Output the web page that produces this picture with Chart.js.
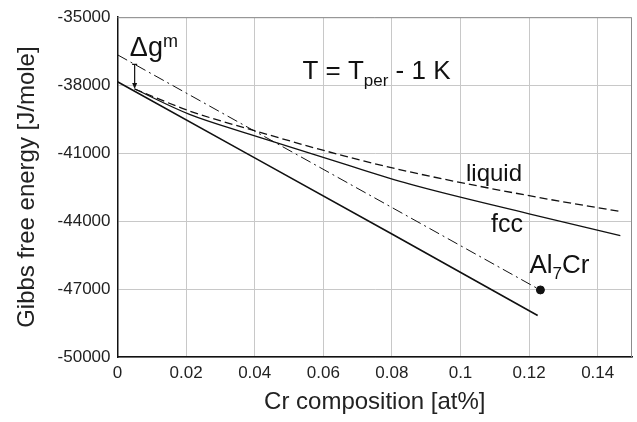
<!DOCTYPE html>
<html>
<head>
<meta charset="utf-8">
<script src="https://cdn.jsdelivr.net/npm/chart.js@4"></script>
<style>
  html, body { margin: 0; padding: 0; background: #fff; }
  #wrap { width: 637px; height: 422px; }
</style>
</head>
<body>
<div id="wrap"><canvas id="gibbs"></canvas></div>
<script>
// values
const tangentX = [0, 0.04, 0.08, 0.1225];
const tangentY = [-37850, -41210, -44570, -48170];

const commonX = [0, 0.1232];
const commonY = [-36660, -47040];

const fccX = [0.005, 0.021, 0.0384, 0.066, 0.085, 0.12, 0.1466];
const fccY = [-38170, -39290, -40160, -41480, -42360, -43680, -44640];

const liquidX = [0.005, 0.021, 0.0384, 0.066, 0.085, 0.12, 0.1466];
const liquidY = [-38170, -39140, -39940, -41120, -41820, -42880, -43580];

const al7crX = [0.1233];
const al7crY = [-47040];

// Δg^m arrow: from the dash-dot line down to the fcc curve
const arrowX = 0.005;
const arrowY = [-37080, -38170];

const xMin = 0, xMax = 0.15, xStep = 0.02;
const yMin = -50000, yMax = -35000, yStep = 3000;

const FONT = "'Liberation Sans', Arial, sans-serif";

function toPoints(xs, ys) {
    let pts = [];
    for (let i = 0; i < xs.length; i++) {
        pts.push({ x: xs[i], y: ys[i] });
    }
    return pts;
}

// texts and the arrow, placed in data units
const annotations = {
    id: 'annotations',
    afterDatasetsDraw(chart) {
        const ctx = chart.ctx;
        const xs = chart.scales.x, ys = chart.scales.y;
        const px = v => xs.getPixelForValue(v);
        const py = v => ys.getPixelForValue(v);
        const area = chart.chartArea;

        ctx.save();
        // top + right frame
        ctx.strokeStyle = '#8c8c8c';
        ctx.lineWidth = 1;
        ctx.beginPath();
        ctx.moveTo(area.left, area.top + 0.5);
        ctx.lineTo(area.right - 0.5, area.top + 0.5);
        ctx.lineTo(area.right - 0.5, area.bottom);
        ctx.stroke();

        // arrow
        const ax = px(arrowX), ay0 = py(arrowY[0]), ay1 = py(arrowY[1]);
        ctx.strokeStyle = '#111';
        ctx.fillStyle = '#111';
        ctx.lineWidth = 1.2;
        ctx.beginPath();
        ctx.moveTo(ax - 2.5, ay0);
        ctx.lineTo(ax + 2.5, ay0);
        ctx.moveTo(ax, ay0);
        ctx.lineTo(ax, ay1 - 4);
        ctx.stroke();
        ctx.beginPath();
        ctx.moveTo(ax, ay1);
        ctx.lineTo(ax - 2.5, ay1 - 6);
        ctx.lineTo(ax + 2.5, ay1 - 6);
        ctx.closePath();
        ctx.fill();

        ctx.fillStyle = '#111';
        ctx.textBaseline = 'alphabetic';
        ctx.textAlign = 'left';

        // pieces: [text, size, dy]
        function drawRuns(x, y, runs) {
            let cx = x;
            runs.forEach(r => {
                ctx.font = r[1] + 'px ' + FONT;
                ctx.fillText(r[0], cx, y + r[2]);
                cx += ctx.measureText(r[0]).width;
            });
        }

        drawRuns(px(0.0036), py(-36716), [['\u0394g', 27, 0], ['m', 18, -9]]);
        drawRuns(px(0.0539), py(-37741), [['T = T', 26, 0], ['per', 17, 7], [' - 1 K', 26, 0]]);
        drawRuns(px(0.1016), py(-42247), [['liquid', 24, 0]]);
        drawRuns(px(0.1089), py(-44491), [['fcc', 25, 0]]);
        drawRuns(px(0.1201), py(-46295), [['Al', 26, 0], ['7', 17, 6], ['Cr', 26, 0]]);
        ctx.restore();
    }
};

const lineColor = '#111';

const chart = new Chart(document.getElementById('gibbs'), {
    type: 'line',
    data: {
        datasets: [{
            label: 'tangent',
            data: toPoints(tangentX, tangentY),
            borderColor: lineColor,
            borderWidth: 1.6,
            pointRadius: 0
        }, {
            label: 'common tangent',
            data: toPoints(commonX, commonY),
            borderColor: lineColor,
            borderWidth: 1,
            borderDash: [11, 4, 2, 4],
            pointRadius: 0
        }, {
            label: 'fcc',
            data: toPoints(fccX, fccY),
            borderColor: lineColor,
            borderWidth: 1.3,
            cubicInterpolationMode: 'monotone',
            pointRadius: 0
        }, {
            label: 'liquid',
            data: toPoints(liquidX, liquidY),
            borderColor: lineColor,
            borderWidth: 1.3,
            borderDash: [8, 4],
            cubicInterpolationMode: 'monotone',
            pointRadius: 0
        }, {
            label: 'Al7Cr',
            data: toPoints(al7crX, al7crY),
            showLine: false,
            pointRadius: 4,
            pointBackgroundColor: '#111',
            pointBorderColor: '#111'
        }]
    },
    options: {
        responsive: true,
        maintainAspectRatio: false,
        animation: false,
        layout: { padding: { top: 16, right: 4, left: 0, bottom: 0 } },
        plugins: {
            legend: { display: false },
            tooltip: { enabled: false }
        },
        scales: {
            x: {
                type: 'linear',
                min: xMin,
                max: xMax,
                afterFit: function (scale) { scale.height = 65; },
                grid: { color: '#c8c8c8', drawTicks: false },
                border: { color: '#111', width: 1.5 },
                ticks: {
                    stepSize: xStep,
                    includeBounds: false,
                    padding: 6,
                    color: '#222',
                    font: { family: FONT, size: 17 },
                    maxRotation: 0,
                    callback: v => String(+v.toFixed(2))
                },
                title: {
                    display: true,
                    text: 'Cr composition [at%]',
                    color: '#222',
                    font: { family: FONT, size: 24 },
                    padding: { top: 0, bottom: 5 }
                }
            },
            y: {
                min: yMin,
                max: yMax,
                afterFit: function (scale) { scale.width = 117.5; },
                grid: { color: '#c8c8c8', drawTicks: false },
                border: { color: '#111', width: 1.5 },
                ticks: {
                    stepSize: yStep,
                    padding: 7,
                    color: '#222',
                    font: { family: FONT, size: 17 },
                    callback: v => String(v)
                },
                title: {
                    display: true,
                    text: 'Gibbs free energy [J/mole]',
                    color: '#222',
                    font: { family: FONT, size: 24 },
                    padding: { top: 12.5, bottom: 0 }
                }
            }
        }
    },
    plugins: [annotations]
});
</script>
</body>
</html>
